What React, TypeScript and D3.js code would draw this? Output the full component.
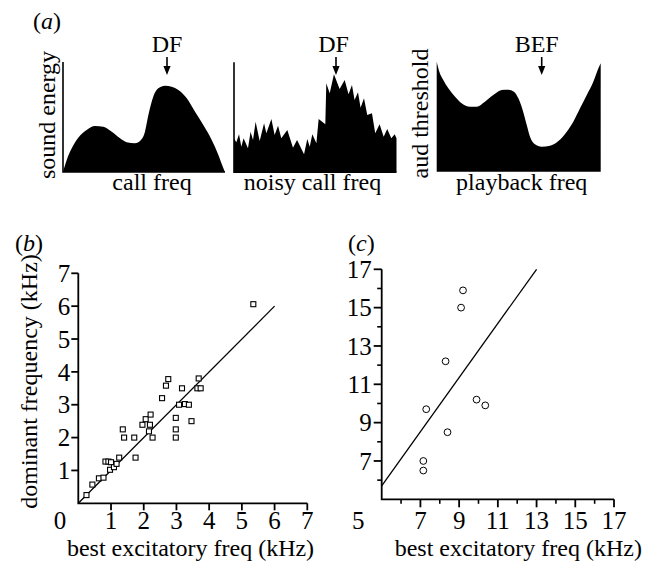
import React from 'react';
import * as d3 from 'd3';

// ---- panel (a): schematic spectra, arbitrary units (freq 0-100, level 0-100)
const callSpectrum: [number, number][] = [
  [0, 0], [2.3, 10.9], [5.4, 21.5], [9.4, 31.2], [14.6, 38.2], [19.8, 41.8],
  [24.9, 41.2], [30.1, 36.6], [35.2, 30.6], [39.3, 27], [44.4, 26.1], [48.1, 29.1],
  [50.6, 36.6], [52.7, 51.8], [55.7, 68.5], [58.8, 76.1], [63, 78.5], [67.1, 77.5],
  [71.2, 74.5], [76.4, 67], [81.5, 54.8], [86.6, 42.7], [91.8, 29.1], [95.9, 15.5],
  [99, 3.4], [100, 0],
];

const noisySpectrum: [number, number][] = [
  [0, 30.9], [1.4, 27.3], [3.1, 34.5], [4.5, 23.3], [5.9, 30.9], [8.6, 21.8],
  [10.2, 36.9], [11.7, 29.4], [13.3, 46], [15.8, 28.5], [18.5, 44.5], [19.9, 35.5],
  [23, 48.5], [25, 33.9], [27.1, 42.4], [29.1, 30.9], [32.8, 38.5], [36.3, 22.4],
  [38.8, 29.4], [43.1, 16.4], [45.1, 30.3], [46.6, 23.3], [48.2, 34.5], [50.7, 26.4],
  [52.1, 48.5], [56.2, 43.6], [56.8, 80.9], [58.9, 71.8], [61.5, 89.1], [65, 75.7],
  [68.1, 83.9], [70.5, 70.9], [72.6, 79.4], [74.2, 65.7], [76.3, 72.7], [77.9, 58.7],
  [80, 67.3], [82, 52.1], [84.9, 53.6], [86.9, 35.5], [89.6, 43.6], [92.1, 32.4],
  [94.3, 39.4], [96.8, 30.9], [98.9, 34.5], [100, 30.9],
];

const audiogram: [number, number][] = [
  [0, 100], [1.6, 90.9], [4, 83.4], [7.1, 75.8], [11.2, 68.2], [15.2, 62.2],
  [20.3, 59.1], [24.4, 59.1], [29.4, 63.6], [34.5, 69.7], [39.6, 74.3], [43.7, 74.6],
  [47.1, 72.7], [49.8, 66.7], [52.4, 56.1], [54.9, 42.5], [56.9, 31.8], [59.9, 24.9],
  [64, 22.7], [69.1, 23.6], [74.2, 27.9], [79.3, 36.4], [83.3, 45.5], [87.4, 57.6],
  [91.5, 69.7], [95.5, 81.8], [98.6, 94], [100, 98.5],
];

// ---- panel (b)
const bBestFreq = [
  0.25, 0.43, 0.63, 0.77, 0.83, 0.92, 1.0, 0.97, 1.09, 1.17, 1.25, 1.36, 1.4, 1.71,
  1.75, 1.96, 2.06, 2.19, 2.21, 2.16, 2.27, 2.56, 2.68, 2.75, 2.98, 2.98, 2.98, 3.08,
  3.17, 3.26, 3.38, 3.46, 3.64, 3.68, 3.74, 5.35,
];
const bDominant = [
  0.25, 0.57, 0.76, 0.78, 1.27, 1.27, 1.25, 1.02, 1.1, 1.2, 1.39, 2.25, 2.0, 2.0,
  1.39, 2.39, 2.56, 2.39, 2.7, 2.19, 2.0, 3.2, 3.58, 3.78, 2.6, 2.25, 2.0, 3.0,
  3.5, 3.02, 3.0, 2.5, 3.5, 3.8, 3.5, 6.06,
];
const bLine: [number, number][] = [[0, 0], [6, 6]];
const bTicks = [1, 2, 3, 4, 5, 6, 7];

// ---- panel (c)
const cBestFreq = [9.2, 9.1, 8.3, 7.3, 9.9, 10.35, 8.4, 7.15, 7.15];
const cDominant = [15.9, 15.0, 12.2, 9.7, 10.2, 9.9, 8.5, 7.0, 6.5];
const cLine: [number, number][] = [[5, 5.7], [13, 17]];
const cMajor = [7, 9, 11, 13, 15, 17];
const cMinor = [6, 8, 10, 12, 14, 16];

const FONT = "'Liberation Serif', 'DejaVu Serif', serif";
const txt = { fontFamily: FONT, fontSize: 24 };
const tick = { fontFamily: FONT, fontSize: 25 };

function Arrow({ x }: { x: number }) {
  return (
    <g>
      <line x1={x} x2={x} y1={57} y2={68} stroke="#000" strokeWidth={1.6} />
      <polygon points={`${x - 3.6},${66} ${x + 3.6},${66} ${x},${75}`} fill="#000" />
    </g>
  );
}

function SpectrumPlot({
  data, x0, x1, y0, y1, curve, axis,
}: {
  data: [number, number][]; x0: number; x1: number; y0: number; y1: number;
  curve: d3.CurveFactory; axis: boolean;
}) {
  const x = d3.scaleLinear().domain([0, 100]).range([x0, x1]);
  const y = d3.scaleLinear().domain([0, 100]).range([y0, y1]);
  const area = d3.area<[number, number]>()
    .x(d => x(d[0]))
    .y0(y(0))
    .y1(d => y(d[1]))
    .curve(curve);
  return (
    <g>
      <path d={area(data) || ''} fill="#000" />
      {axis && (
        <path d={`M${x0},${y1}V${y0}H${x1}`} fill="none" stroke="#000" strokeWidth={1.6} />
      )}
    </g>
  );
}

function PanelB() {
  const x = d3.scaleLinear().domain([0, 7]).range([78.3, 307.3]);
  const y = d3.scaleLinear().domain([0, 7]).range([503.3, 273.3]);
  const line = d3.line<[number, number]>().x(d => x(d[0])).y(d => y(d[1]));
  const s = 5;
  return (
    <g>
      <text x={15} y={251} style={txt}>(<tspan fontStyle="italic">b</tspan>)</text>
      <path d={line(bLine) || ''} stroke="#000" strokeWidth={1.3} fill="none" />
      {bBestFreq.map((v, i) => (
        <rect key={i} x={x(v) - s / 2} y={y(bDominant[i]) - s / 2} width={s} height={s}
          fill="#fff" stroke="#000" strokeWidth={1.1} />
      ))}
      <path d={`M${x(0)},${y(7)}V${y(0)}H${x(7)}`} fill="none" stroke="#000" strokeWidth={1.8} />
      {bTicks.map(t => (
        <g key={'y' + t}>
          <line x1={x(0) - 7} x2={x(0)} y1={y(t)} y2={y(t)} stroke="#000" strokeWidth={1.8} />
          <text x={x(0) - 8} y={y(t)} dy="0.35em" textAnchor="end" style={tick}>{t}</text>
        </g>
      ))}
      {bTicks.map(t => (
        <g key={'x' + t}>
          <line x1={x(t)} x2={x(t)} y1={y(0)} y2={y(0) + 7} stroke="#000" strokeWidth={1.8} />
          <text x={x(t)} y={529} textAnchor="middle" style={tick}>{t}</text>
        </g>
      ))}
      <text x={60} y={529} textAnchor="middle" style={tick}>0</text>
      <text x={190.5} y={556} textAnchor="middle" style={txt}>best excitatory freq (kHz)</text>
      <text transform="translate(37,381.5) rotate(-90)" textAnchor="middle" style={txt}>
        dominant frequency (kHz)
      </text>
    </g>
  );
}

function PanelC() {
  const x = d3.scaleLinear().domain([5, 17]).range([381.7, 614]);
  const y = d3.scaleLinear().domain([5, 17]).range([499.3, 269.3]);
  const line = d3.line<[number, number]>().x(d => x(d[0])).y(d => y(d[1]));
  return (
    <g>
      <text x={348} y={251} style={txt}>(<tspan fontStyle="italic">c</tspan>)</text>
      <path d={line(cLine) || ''} stroke="#000" strokeWidth={1.3} fill="none" />
      {cBestFreq.map((v, i) => (
        <circle key={i} cx={x(v)} cy={y(cDominant[i])} r={3.4} fill="#fff" stroke="#000" strokeWidth={1} />
      ))}
      <path d={`M${x(5)},${y(17)}V${y(5)}H${x(17)}`} fill="none" stroke="#000" strokeWidth={1.8} />
      {cMinor.map(t => (
        <g key={'m' + t}>
          <line x1={x(5) - 4.5} x2={x(5)} y1={y(t)} y2={y(t)} stroke="#000" strokeWidth={1.6} />
          <line x1={x(t)} x2={x(t)} y1={y(5)} y2={y(5) + 4.5} stroke="#000" strokeWidth={1.6} />
        </g>
      ))}
      {cMajor.map(t => (
        <g key={'M' + t}>
          <line x1={x(5) - 8} x2={x(5)} y1={y(t)} y2={y(t)} stroke="#000" strokeWidth={1.8} />
          <text x={x(5) - 10} y={y(t)} dy="0.35em" textAnchor="end" style={tick}>{t}</text>
          <line x1={x(t)} x2={x(t)} y1={y(5)} y2={y(5) + 8} stroke="#000" strokeWidth={1.8} />
          <text x={x(t)} y={529} textAnchor="middle" style={tick}>{t}</text>
        </g>
      ))}
      <text x={358.3} y={529} textAnchor="middle" style={tick}>5</text>
      <text x={518.3} y={556} textAnchor="middle" style={txt}>best excitatory freq (kHz)</text>
    </g>
  );
}

export default function App() {
  return (
    <svg width={651} height={562} viewBox="0 0 651 562"
      style={{ position: 'absolute', left: 0, top: 0, background: '#fff' }}>
      <rect width={651} height={562} fill="#fff" />
      {/* panel (a) */}
      <text x={33} y={29} style={txt}>(<tspan fontStyle="italic">a</tspan>)</text>

      <SpectrumPlot data={callSpectrum} x0={63} x1={225} y0={172} y1={62} curve={d3.curveMonotoneX} axis />
      <text x={167} y={52} textAnchor="middle" style={txt}>DF</text>
      <Arrow x={167} />
      <text transform="translate(55,115) rotate(-90)" textAnchor="middle" style={txt}>sound energy</text>
      <text x={152} y={190} textAnchor="middle" style={txt}>call freq</text>

      <SpectrumPlot data={noisySpectrum} x0={234} x1={396.5} y0={172.3} y1={62.3} curve={d3.curveLinear} axis />
      <text x={333.5} y={52} textAnchor="middle" style={txt}>DF</text>
      <Arrow x={336} />
      <text x={312.5} y={190} textAnchor="middle" style={txt}>noisy call freq</text>

      <SpectrumPlot data={audiogram} x0={436.7} x1={600.7} y0={171.7} y1={61.7} curve={d3.curveMonotoneX} axis={false} />
      <text x={536.7} y={52} textAnchor="middle" style={txt}>BEF</text>
      <Arrow x={541.7} />
      <text transform="translate(428,113.5) rotate(-90)" textAnchor="middle" style={txt}>aud threshold</text>
      <text x={521.7} y={190} textAnchor="middle" style={txt}>playback freq</text>

      <PanelB />
      <PanelC />
    </svg>
  );
}
